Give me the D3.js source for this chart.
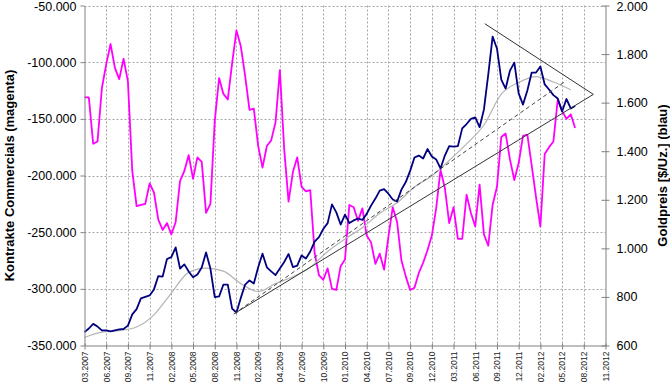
<!DOCTYPE html>
<html>
<head>
<meta charset="utf-8">
<script src="https://cdn.jsdelivr.net/npm/d3@7"></script>
<style>
  body { margin: 0; background: #fff; }
  svg { font-family: "Liberation Sans", Arial, sans-serif; }
</style>
</head>
<body>
<div id="chart"></div>
<script>
// x axis labels, one label every 5 observations
var tickLabels = ["03.2007", "06.2007", "09.2007", "11.2007", "02.2008", "05.2008", "08.2008",
  "11.2008", "02.2009", "04.2009", "07.2009", "10.2009", "01.2010", "04.2010", "07.2010",
  "09.2010", "12.2010", "03.2011", "06.2011", "09.2011", "12.2011", "02.2012", "05.2012",
  "08.2012", "11.2012"];
var labelStep = 5;

// net position of the commercials (contracts), left axis
var commercials = [-131000, -131000, -172000, -170000, -123000, -102000, -84000, -105000, -115000, -97000,
  -117000, -196000, -227000, -226000, -225000, -207000, -215000, -239000, -248000, -242000,
  -252000, -241000, -205000, -196000, -182000, -203000, -184000, -188000, -233000, -225000,
  -152000, -114000, -128000, -133000, -101000, -72000, -86000, -112000, -142000, -141000,
  -174000, -193000, -174000, -169000, -153000, -107000, -177000, -223000, -197000, -184000,
  -210000, -214000, -213000, -268000, -288000, -292000, -282000, -300000, -301000, -280000,
  -274000, -226000, -228000, -240000, -229000, -253000, -259000, -278000, -269000, -283000,
  -254000, -228000, -241000, -275000, -289000, -301000, -299000, -286000, -277000, -266000,
  -253000, -229000, -195000, -211000, -242000, -228000, -256000, -256000, -217000, -233000,
  -245000, -208000, -252000, -262000, -226000, -210000, -166000, -163000, -186000, -204000,
  -189000, -165000, -164000, -191000, -219000, -245000, -181000, -175000, -170000, -133000,
  -143000, -150000, -146000, -158000];

// gold price in $/oz, right axis
var gold = [655, 670, 689, 678, 662, 662, 658, 662, 666, 668,
  682, 728, 750, 794, 800, 806, 831, 886, 884, 956,
  964, 1004, 917, 934, 905, 881, 892, 921, 983, 917,
  799, 802, 851, 851, 752, 736, 796, 851, 868, 855,
  922, 978, 922, 905, 890, 917, 944, 977, 923, 929,
  971, 958, 987, 1028, 1046, 1080, 1104, 1181, 1148, 1098,
  1139, 1104, 1115, 1123, 1117, 1142, 1176, 1205, 1238, 1244,
  1225, 1201, 1193, 1242, 1273, 1319, 1374, 1382, 1370, 1409,
  1378, 1366, 1329, 1382, 1421, 1419, 1421, 1494, 1512, 1533,
  1539, 1499, 1572, 1716, 1872, 1823, 1695, 1658, 1732, 1765,
  1638, 1592, 1650, 1724, 1724, 1749, 1675, 1654, 1631, 1617,
  1564, 1615, 1576, 1586];

// moving average of the gold price, every 4th observation
var goldAvg = [633, 655, 661, 676, 726, 816, 901, 919, 906, 855,
  822, 855, 883, 922, 987, 1039, 1085, 1145, 1188, 1253,
  1298, 1362, 1430, 1508, 1635, 1683, 1707, 1685, 1653];
var avgStep = 4;

// trend lines drawn on the gold price (observation index, price)
var trendLines = [
  { x1: 34.4, y1: 730, x2: 117.2, y2: 1634, dashed: false },
  { x1: 92.2, y1: 1925, x2: 117.2, y2: 1634, dashed: false },
  { x1: 34.4, y1: 730, x2: 111.0, y2: 1691, dashed: true }
];

var svgWidth = 670;
var svgHeight = 383;
var plot = { left: 84.5, right: 605.5, top: 5.5, bottom: 345.5 };

var svg = d3.select("#chart")
  .append("svg")
  .attr("width", svgWidth)
  .attr("height", svgHeight);

// German number format: 1.800 / -50.000
var de = d3.formatLocale({ decimal: ",", thousands: ".", grouping: [3], currency: ["", " €"], minus: "-" });
var fmt = de.format(",");

var x = d3.scaleLinear()
  .domain([0, (tickLabels.length - 1) * labelStep])
  .range([plot.left, plot.right]);

var yLeft = d3.scaleLinear()
  .domain([-350000, -50000])
  .range([plot.bottom, plot.top]);

var yRight = d3.scaleLinear()
  .domain([600, 2000])
  .range([plot.bottom, plot.top]);

var xTicks = d3.range(0, tickLabels.length).map(d => d * labelStep);
var leftTicks = d3.range(-350000, -49999, 50000);
var rightTicks = d3.range(600, 2001, 200);

// dotted grid
var grid = svg.append("g")
  .attr("stroke", "#a6a6a6")
  .attr("stroke-width", 1)
  .attr("stroke-dasharray", "2,2");

grid.selectAll(".hgrid")
  .data(leftTicks.slice(1))
  .enter()
  .append("line")
  .attr("x1", plot.left)
  .attr("x2", plot.right)
  .attr("y1", d => Math.round(yLeft(d)) + 0.5)
  .attr("y2", d => Math.round(yLeft(d)) + 0.5);

grid.selectAll(".vgrid")
  .data(xTicks.slice(1, -1))
  .enter()
  .append("line")
  .attr("x1", d => Math.round(x(d)) + 0.5)
  .attr("x2", d => Math.round(x(d)) + 0.5)
  .attr("y1", plot.top)
  .attr("y2", plot.bottom);

// series
var commLine = d3.line()
  .x((d, i) => x(i))
  .y(d => yLeft(d));

var goldLine = d3.line()
  .x((d, i) => x(i))
  .y(d => yRight(d));

var avgLine = d3.line()
  .x((d, i) => x(i * avgStep))
  .y(d => yRight(d))
  .curve(d3.curveMonotoneX);

svg.append("path")
  .datum(commercials)
  .attr("fill", "none")
  .attr("stroke", "#ff00ff")
  .attr("stroke-width", 1.8)
  .attr("stroke-linejoin", "round")
  .attr("d", commLine);

svg.append("path")
  .datum(goldAvg)
  .attr("fill", "none")
  .attr("stroke", "#b4b4b4")
  .attr("stroke-width", 1.2)
  .attr("d", avgLine);

svg.append("path")
  .datum(gold)
  .attr("fill", "none")
  .attr("stroke", "#000080")
  .attr("stroke-width", 1.8)
  .attr("stroke-linejoin", "round")
  .attr("d", goldLine);

svg.selectAll(".trend")
  .data(trendLines)
  .enter()
  .append("line")
  .attr("x1", d => x(d.x1))
  .attr("y1", d => yRight(d.y1))
  .attr("x2", d => x(d.x2))
  .attr("y2", d => yRight(d.y2))
  .attr("stroke", d => d.dashed ? "#444" : "#333")
  .attr("stroke-width", 1)
  .attr("stroke-dasharray", d => d.dashed ? "4,3" : null);

// axes
var bottomAxis = d3.axisBottom(x)
  .tickValues(xTicks)
  .tickSize(4)
  .tickSizeOuter(0)
  .tickFormat((d, i) => tickLabels[i]);

var leftAxis = d3.axisLeft(yLeft)
  .tickValues(leftTicks)
  .tickSize(4)
  .tickSizeOuter(0)
  .tickPadding(4)
  .tickFormat(fmt);

var rightAxis = d3.axisRight(yRight)
  .tickValues(rightTicks)
  .tickSize(4)
  .tickSizeOuter(0)
  .tickPadding(7)
  .tickFormat(fmt);

var xAxis = svg.append("g")
  .attr("transform", `translate(0, ${plot.bottom})`)
  .call(bottomAxis);

xAxis.selectAll(".tick line").attr("y1", -2);
xAxis.selectAll("text")
  .attr("transform", "rotate(-90)")
  .attr("text-anchor", "end")
  .attr("x", -6)
  .attr("y", 0)
  .attr("dy", "0.33em")
  .attr("font-size", "8.5px")
  .attr("fill", "#222");

var yAxisLeft = svg.append("g")
  .attr("transform", `translate(${plot.left}, 0)`)
  .call(leftAxis);

yAxisLeft.selectAll("text")
  .attr("font-size", "12.5px")
  .attr("fill", "#000");

var yAxisRight = svg.append("g")
  .attr("transform", `translate(${plot.right}, 0)`)
  .call(rightAxis);

yAxisRight.selectAll(".tick line").attr("x1", -4);
yAxisRight.selectAll("text")
  .attr("font-size", "12.5px")
  .attr("fill", "#000");

// keep the top labels inside the picture
svg.selectAll(".tick text")
  .filter(d => d === -50000 || d === 2000)
  .attr("dy", "0.42em");

svg.selectAll(".domain, .tick line")
  .attr("stroke", "#808080");

// axis titles
svg.append("text")
  .attr("transform", `translate(13.5, ${(plot.top + plot.bottom) / 2}) rotate(-90)`)
  .attr("text-anchor", "middle")
  .attr("font-size", "13px")
  .attr("font-weight", "bold")
  .text("Kontrakte Commercials (magenta)");

svg.append("text")
  .attr("transform", `translate(667, ${(plot.top + plot.bottom) / 2}) rotate(-90)`)
  .attr("text-anchor", "middle")
  .attr("font-size", "13px")
  .attr("font-weight", "bold")
  .text("Goldpreis [$/Uz.] (blau)");
</script>
</body>
</html>
